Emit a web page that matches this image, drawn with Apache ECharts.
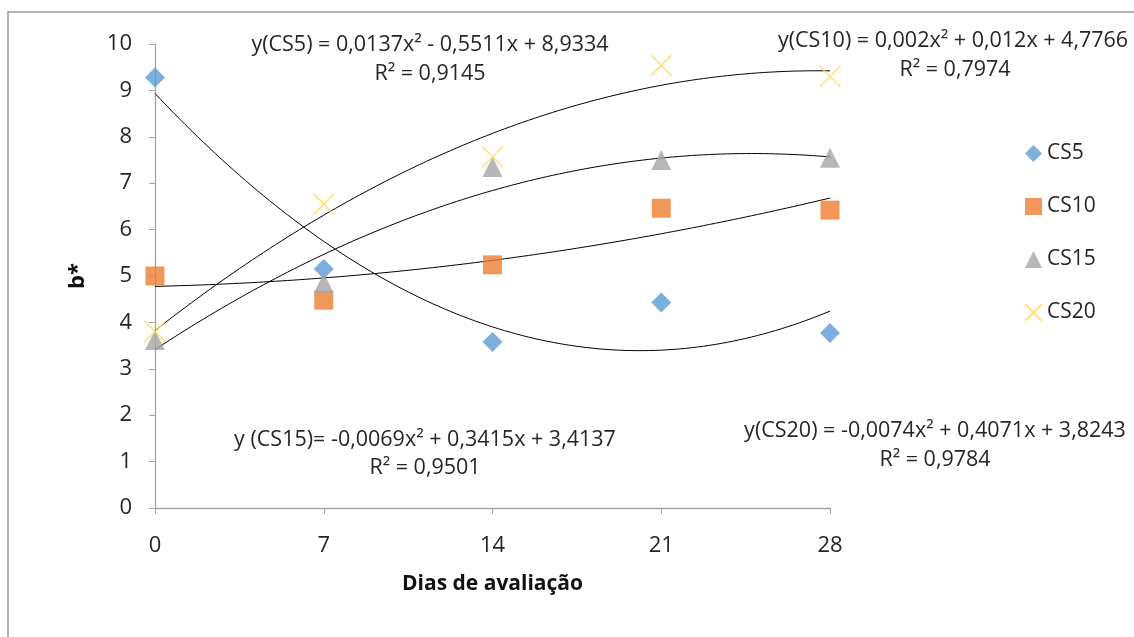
<!DOCTYPE html>
<html>
<head>
<meta charset="utf-8">
<script src="https://cdn.jsdelivr.net/npm/echarts@6/dist/echarts.min.js"></script>
<style>
html,body{margin:0;padding:0;background:#fff;}
#chart{width:1134px;height:637px;}
</style>
</head>
<body>
<div id="chart"></div>
<script>
// Data
const days = [0, 7, 14, 21, 28];
const xTicks = [0, 7, 14, 21, 28];
const seriesNames = ['CS5', 'CS10', 'CS15', 'CS20'];
const cs5 = [9.28, 5.15, 3.58, 4.43, 3.77];
const cs10 = [5.0, 4.48, 5.24, 6.46, 6.42];
const cs15 = [3.62, 4.85, 7.35, 7.5, 7.55];
const cs20 = [3.8, 6.55, 7.57, 9.54, 9.3];
// Trendline coefficients (a, b, c) for y = a x^2 + b x + c, as printed on the chart
const trendCS5 = [0.0137, -0.5511, 8.9334];
const trendCS10 = [0.002, 0.012, 4.7766];
const trendCS15 = [-0.0069, 0.3415, 3.4137];
const trendCS20 = [-0.0074, 0.4071, 3.8243];
const eqTexts = [
  'y(CS5) = 0,0137x² - 0,5511x + 8,9334',
  'R² = 0,9145',
  'y(CS10) = 0,002x² + 0,012x + 4,7766',
  'R² = 0,7974',
  'y (CS15)= -0,0069x² + 0,3415x + 3,4137',
  'R² = 0,9501',
  'y(CS20) = -0,0074x² + 0,4071x + 3,8243',
  'R² = 0,9784'
];

const FONT = '"Open Sans", "Noto Sans", sans-serif';
const colors = ['#5b9bd5', '#ed7d31', '#a5a5a5', '#ffc000'];
const symbols = ['diamond', 'rect', 'triangle', 'path://M0,0L10,10M10,0L0,10'];
const symbolSizes = [20, 19, 20, 21];
const values = [cs5, cs10, cs15, cs20];
const trends = [trendCS5, trendCS10, trendCS15, trendCS20];

function curve(coef) {
  const pts = [];
  for (let i = 0; i <= 112; i++) {
    const x = i * 0.25;
    pts.push([x, coef[0] * x * x + coef[1] * x + coef[2]]);
  }
  return pts;
}

const series = [];
trends.forEach((t, i) => {
  series.push({
    type: 'line', name: 'trend' + i, data: curve(t), showSymbol: false, silent: true,
    lineStyle: { color: '#000', width: 1 }, z: 1, animation: false
  });
});
values.forEach((v, i) => {
  const isCross = i === 3;
  series.push({
    type: 'scatter', name: seriesNames[i],
    data: days.map((d, j) => [d, v[j]]),
    symbol: symbols[i], symbolSize: symbolSizes[i],
    itemStyle: isCross ? { color: 'rgba(0,0,0,0)', borderColor: '#ffd966', borderWidth: 1.6 } : { color: colors[i] },
    z: 3, animation: false
  });
});

function eq(x, y, t) {
  return { type: 'text', x: x, y: y, silent: true,
    style: { text: t, fontFamily: 'Open Sans', fontSize: 21.5, fill: '#262626', align: 'center', verticalAlign: 'middle' } };
}

const chart = echarts.init(document.getElementById('chart'));
chart.setOption({
  animation: false,
  grid: { left: 155, right: 304, top: 44, bottom: 129 },
  xAxis: {
    type: 'value', min: 0, max: 28, interval: 7,
    name: 'Dias de avaliação', nameLocation: 'middle', nameGap: 66,
    nameTextStyle: { fontFamily: FONT, fontWeight: 'bold', fontSize: 21, color: '#111' },
    axisLine: { lineStyle: { color: '#a6a6a6', width: 1.3 } },
    axisTick: { show: true, length: 6, lineStyle: { color: '#a6a6a6' } },
    axisLabel: { fontFamily: FONT, fontSize: 22, color: '#262626', margin: 27,
      formatter: v => xTicks.includes(v) ? String(v) : '' },
    splitLine: { show: false }
  },
  yAxis: {
    type: 'value', min: 0, max: 10, interval: 1,
    name: 'b*', nameLocation: 'middle', nameGap: 66, nameRotate: 90,
    nameTextStyle: { fontFamily: FONT, fontWeight: 'bold', fontSize: 22, color: '#111' },
    axisLine: { show: true, lineStyle: { color: '#a6a6a6', width: 1.3 } },
    axisTick: { show: true, length: 6, lineStyle: { color: '#a6a6a6' } },
    axisLabel: { fontFamily: FONT, fontSize: 22, color: '#262626', margin: 23 },
    splitLine: { show: false }
  },
  legend: {
    orient: 'vertical', left: 1019, top: 137, itemGap: 30,
    itemWidth: 17, itemHeight: 17,
    data: seriesNames,
    textStyle: { fontFamily: FONT, fontSize: 21, color: '#262626', lineHeight: 23 }
  },
  graphic: [
    { type: 'rect', shape: { x: 8, y: 12, width: 1300, height: 800 }, style: { fill: 'none', stroke: '#9a9a9a', lineWidth: 1.5 }, silent: true, z: -1 },
    eq(430, 45, eqTexts[0]),
    eq(430, 74, eqTexts[1]),
    eq(953, 41, eqTexts[2]),
    eq(955, 70, eqTexts[3]),
    eq(425, 440, eqTexts[4]),
    eq(425, 468, eqTexts[5]),
    eq(935, 431, eqTexts[6]),
    eq(935, 460, eqTexts[7])
  ],
  series: series
});
</script>
</body>
</html>
